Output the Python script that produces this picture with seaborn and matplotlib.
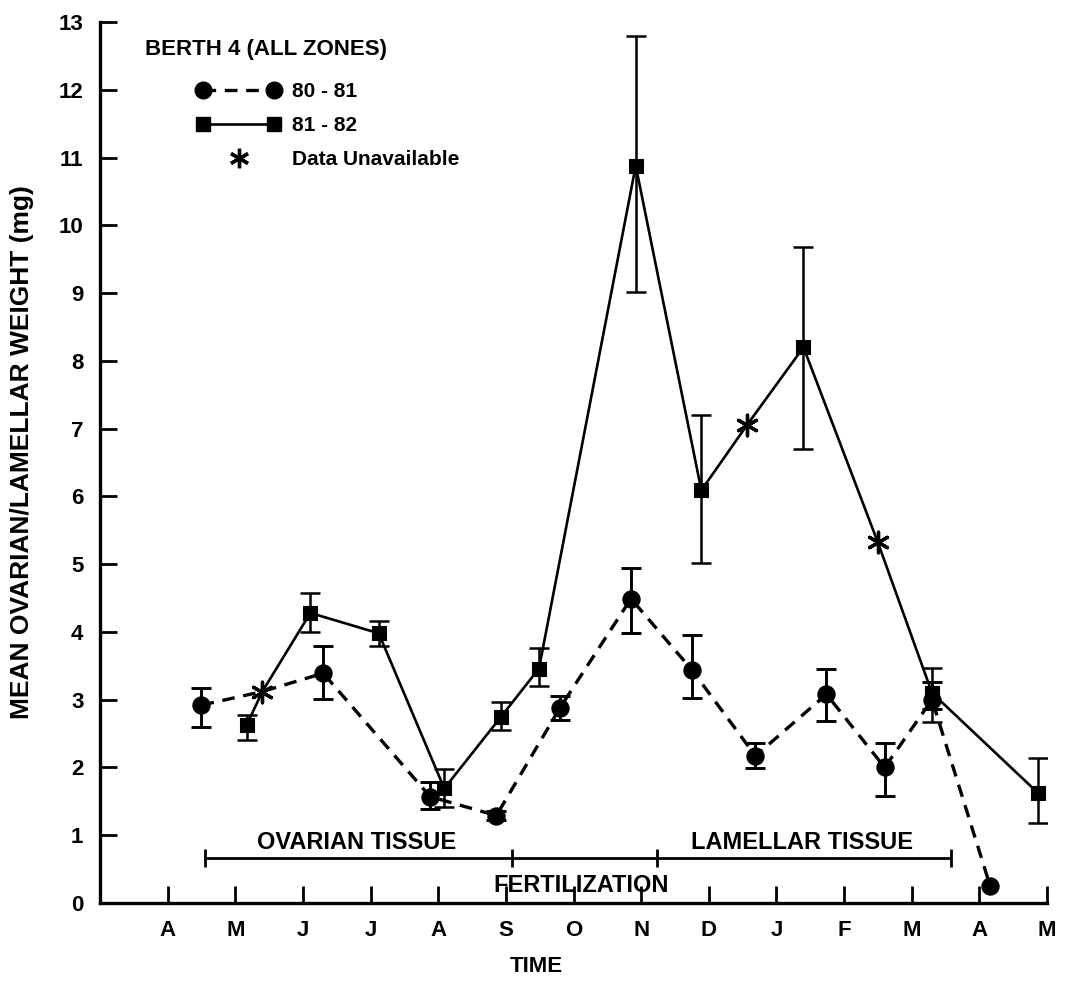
import numpy as np
import pandas as pd
import matplotlib
matplotlib.use("Agg")
import matplotlib.pyplot as plt
import seaborn as sns
from matplotlib.lines import Line2D
from matplotlib.legend_handler import HandlerLine2D

sns.set_theme(style="ticks")
plt.rcParams['font.family'] = ['Liberation Sans', 'DejaVu Sans']
plt.rcParams['text.color'] = 'black'
plt.rcParams['axes.labelcolor'] = 'black'

# ---------------- data ----------------
months = ["A", "M", "J", "J", "A", "S", "O", "N", "D", "J", "F", "M", "A", "M"]
month_pos = list(range(1, 15))
y_ticks = list(range(0, 14))

# 80-81 (circles, dashed); avail=False -> data unavailable (asterisk)
s1_x = [1.50, 2.40, 3.30, 4.88, 5.86, 6.80, 7.85, 8.75, 9.69, 10.74, 11.60, 12.30, 13.16]
s1_y = [2.92, 3.12, 3.39, 1.57, 1.29, 2.88, 4.49, 3.44, 2.17, 3.08, 2.00, 3.00, 0.25]
s1_lo = [2.60, np.nan, 3.01, 1.38, 1.22, 2.70, 3.99, 3.02, 1.99, 2.68, 1.58, 2.86, np.nan]
s1_hi = [3.17, np.nan, 3.79, 1.78, 1.36, 3.05, 4.95, 3.96, 2.36, 3.46, 2.36, 3.26, np.nan]
s1_avail = [True, False, True, True, True, True, True, True, True, True, True, True, True]

# 81-82 (squares, solid)
s2_x = [2.17, 2.40, 3.11, 4.12, 5.09, 5.93, 6.49, 7.92, 8.89, 9.57, 10.40, 11.50, 12.30, 13.86]
s2_y = [2.63, 3.12, 4.28, 3.98, 1.69, 2.75, 3.46, 10.88, 6.09, 7.06, 8.20, 5.32, 3.10, 1.63]
s2_lo = [2.40, np.nan, 4.00, 3.79, 1.41, 2.56, 3.20, 9.01, 5.01, np.nan, 6.70, np.nan, 2.67, 1.18]
s2_hi = [2.77, np.nan, 4.57, 4.16, 1.97, 2.97, 3.76, 12.80, 7.20, np.nan, 9.68, np.nan, 3.47, 2.14]
s2_avail = [True, False, True, True, True, True, True, True, True, False, True, False, True, True]

# tissue period bar: boundaries (ovarian | fertilization | lamellar)
period_bounds = [1.55, 6.09, 8.23, 12.58]
period_level = 0.66
period_labels = ["OVARIAN TISSUE", "FERTILIZATION", "LAMELLAR TISSUE"]

# ---------------- figure ----------------
W, H = 1065, 981
fig = plt.figure(figsize=(W / 100, H / 100), dpi=100)
ax = fig.add_axes([100 / W, 1 - 903 / H, (1047 - 100) / W, (903 - 22) / H])

df1 = pd.DataFrame({"x": s1_x, "y": s1_y, "lo": s1_lo, "hi": s1_hi, "avail": s1_avail})
df2 = pd.DataFrame({"x": s2_x, "y": s2_y, "lo": s2_lo, "hi": s2_hi, "avail": s2_avail})

# lines
sns.lineplot(data=df1, x="x", y="y", sort=False, estimator=None, color="black",
             linewidth=2.4, ax=ax, zorder=2)
ax.lines[-1].set_linestyle((0, (3.8, 2.6)))
sns.lineplot(data=df2, x="x", y="y", sort=False, estimator=None, color="black",
             linewidth=1.9, ax=ax, zorder=2)

# error bars
for df, lw in ((df1, 2.1), (df2, 1.8)):
    e = df.dropna(subset=["lo"])
    ax.errorbar(e["x"], e["y"], yerr=[e["y"] - e["lo"], e["hi"] - e["y"]],
                fmt="none", ecolor="black", elinewidth=lw, capsize=7.5,
                capthick=lw, zorder=3)

# markers
a1 = df1[df1["avail"]]
a2 = df2[df2["avail"]]
sns.scatterplot(data=a1, x="x", y="y", marker="o", s=150, color="black",
                edgecolor="black", ax=ax, zorder=4, legend=False)
sns.scatterplot(data=a2, x="x", y="y", marker="s", s=95, color="black",
                edgecolor="black", ax=ax, zorder=4, legend=False)
na = pd.concat([df1[~df1["avail"]], df2[~df2["avail"]]]).drop_duplicates(subset=["x", "y"])
sns.scatterplot(data=na, x="x", y="y", marker=(6, 2, 0), s=220, color="black",
                linewidth=2.4, ax=ax, zorder=5, legend=False)

# period bar
ax.hlines(period_level, period_bounds[0], period_bounds[-1], color="black", lw=2.0, zorder=2)
ax.vlines(period_bounds, period_level - 0.13, period_level + 0.13, color="black", lw=2.0, zorder=2)
ax.text((period_bounds[0] + period_bounds[1]) / 2 - 0.03, 0.90, period_labels[0],
        ha="center", va="center", fontsize=17, fontweight="bold")
ax.text((period_bounds[1] + period_bounds[2]) / 2 - 0.05, 0.26, period_labels[1],
        ha="center", va="center", fontsize=17, fontweight="bold")
ax.text((period_bounds[2] + period_bounds[3]) / 2 - 0.02, 0.90, period_labels[2],
        ha="center", va="center", fontsize=17, fontweight="bold")

# axes styling
ax.set_xlim(0, 14)
ax.set_ylim(0, 13)
ax.set_xticks(month_pos)
ax.set_xticklabels(months)
ax.set_yticks(y_ticks)
ax.set_yticklabels([str(v) for v in y_ticks])
ax.tick_params(axis="both", direction="in", length=12, width=2.0, labelsize=16,
               colors="black", pad=12)
for lab in ax.get_xticklabels() + ax.get_yticklabels():
    lab.set_fontweight("bold")
for s in ("top", "right"):
    ax.spines[s].set_visible(False)
for s in ("left", "bottom"):
    ax.spines[s].set_linewidth(2.4)
    ax.spines[s].set_color("black")
ax.set_xlabel("")
ax.set_ylabel("")
ax.grid(False)

fig.text(22 / W, 1 - 452 / H, "MEAN OVARIAN/LAMELLAR WEIGHT (mg)", rotation=90,
         ha="center", va="center", fontsize=19, fontweight="bold")
fig.text(536 / W, 1 - 966 / H, "TIME", ha="center", va="center",
         fontsize=16, fontweight="bold")

# legend
ax.text(0.0475, 0.969, "BERTH 4 (ALL ZONES)", transform=ax.transAxes,
        ha="left", va="center", fontsize=16, fontweight="bold")
h1 = Line2D([], [], color="black", lw=2.4, linestyle=(0, (3.8, 2.6)), marker="o",
            markersize=12)
h2 = Line2D([], [], color="black", lw=1.9, marker="s", markersize=9.5)
h3 = Line2D([], [], color="black", lw=0, marker=(6, 2, 0), markersize=14,
            markeredgewidth=2.4)
leg = ax.legend([h1, h2, h3], ["80 - 81", "81 - 82", "Data Unavailable"],
                loc="upper left", bbox_to_anchor=(0.1024, 0.932),
                frameon=False, numpoints=2, handlelength=4.0, handletextpad=0.55,
                labelspacing=0.72, borderpad=0, borderaxespad=0,
                prop={"size": 15, "weight": "bold"},
                handler_map={h3: HandlerLine2D(numpoints=1)})

fig.savefig("out.png", dpi=100, facecolor="white")
